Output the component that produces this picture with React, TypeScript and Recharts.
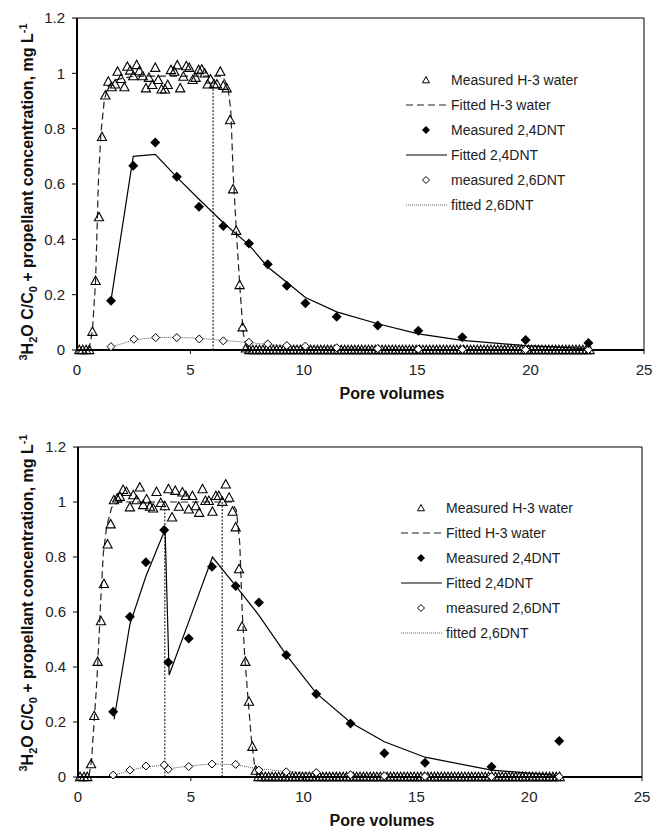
import React from 'react';
import { ComposedChart, Line, Scatter, XAxis, YAxis, ReferenceLine, Legend } from 'recharts';

// ---- upper panel ----
const topH3Measured = [
  [0.1, 0], [0.25, 0], [0.4, 0], [0.54, 0], [0.68, 0.066], [0.82, 0.25], [0.97, 0.48], [1.1, 0.77],
  [1.25, 0.92], [1.38, 0.97], [1.53, 0.95], [1.68, 0.96], [1.79, 1.006], [1.94, 0.98], [2.09, 0.95],
  [2.22, 1.024], [2.34, 1.01], [2.48, 0.99], [2.63, 1.03], [2.75, 1.008], [2.9, 0.99], [3.04, 0.946],
  [3.17, 0.984], [3.32, 0.958], [3.45, 1.02], [3.58, 0.976], [3.73, 0.942], [3.88, 0.942], [4.0, 0.958],
  [4.14, 1.012], [4.29, 1.006], [4.42, 1.029], [4.55, 0.946], [4.69, 0.988], [4.82, 1.026], [4.95, 1.02],
  [5.1, 0.976], [5.23, 0.984], [5.36, 1.012], [5.5, 1.014], [5.63, 1.0], [5.76, 0.96], [5.89, 0.978],
  [6.04, 0.961], [6.17, 0.96], [6.32, 1.006], [6.45, 0.955], [6.6, 0.946], [6.75, 0.831], [6.88, 0.581],
  [7.02, 0.431], [7.17, 0.235], [7.3, 0.082], [7.45, 0.006],
];
const topH3ZeroX = [
  7.6, 7.75, 7.9, 8.05, 8.2, 8.35, 8.5, 8.65, 8.8, 8.95, 9.1, 9.25, 9.4, 9.55, 9.7, 9.85, 10, 10.15, 10.3,
  10.45, 10.6, 10.75, 10.9, 11.05, 11.2, 11.35, 11.5, 11.65, 11.8, 11.95, 12.1, 12.25, 12.4, 12.55, 12.7,
  12.85, 13, 13.15, 13.3, 13.45, 13.6, 13.75, 13.9, 14.05, 14.2, 14.35, 14.5, 14.65, 14.8, 14.95, 15.1,
  15.25, 15.4, 15.55, 15.7, 15.85, 16, 16.15, 16.3, 16.45, 16.6, 16.75, 16.9, 17.05, 17.2, 17.35, 17.5,
  17.65, 17.8, 17.95, 18.1, 18.25, 18.4, 18.55, 18.7, 18.85, 19, 19.15, 19.3, 19.45, 19.6, 19.75, 19.9,
  20.05, 20.2, 20.35, 20.5, 20.65, 20.8, 20.95, 21.1, 21.25, 21.4, 21.55, 21.7, 21.85, 22, 22.15, 22.3,
  22.45, 22.6,
];
const topH3Fitted = [
  [0, 0], [0.45, 0], [0.55, 0.01], [0.68, 0.07], [0.82, 0.25], [0.94, 0.6], [1.05, 0.78], [1.2, 0.9],
  [1.35, 0.95], [1.6, 0.975], [2.5, 0.99], [6.4, 0.99], [6.55, 0.97], [6.67, 0.94], [6.78, 0.867],
  [6.89, 0.63], [7.04, 0.41], [7.19, 0.217], [7.33, 0.06], [7.48, 0.01], [7.6, 0], [22.6, 0],
];
const top24Measured = [
  [1.5, 0.178], [2.48, 0.666], [3.45, 0.75], [4.4, 0.626], [5.38, 0.518], [6.45, 0.448], [7.58, 0.385],
  [8.41, 0.31], [9.25, 0.232], [10.07, 0.169], [11.45, 0.12], [13.26, 0.089], [15.05, 0.07],
  [16.99, 0.046], [19.78, 0.036], [22.55, 0.025],
];
const top24Fitted = [
  [1.5, 0.18], [2.48, 0.7], [3.45, 0.707], [4.4, 0.625], [5.38, 0.545], [6.45, 0.46], [7.58, 0.38],
  [8.41, 0.3], [9.25, 0.245], [10.07, 0.19], [11.45, 0.138], [13.26, 0.095], [15.05, 0.058],
  [16.99, 0.035], [19.78, 0.016], [22.55, 0.005],
];
const top26Measured = [
  [1.5, 0.012], [2.51, 0.039], [3.47, 0.045], [4.4, 0.045], [5.39, 0.04], [6.45, 0.033], [7.58, 0.028],
  [8.41, 0.022], [9.25, 0.016], [10.07, 0.014], [11.45, 0.008], [13.26, 0.005], [15.05, 0.003],
  [16.99, 0.002], [19.78, 0.001], [22.55, 0.001],
];
const top26Fitted = [
  [1.5, 0.01], [2.51, 0.037], [3.47, 0.045], [4.4, 0.046], [5.39, 0.042], [6.45, 0.035], [7.58, 0.027],
  [8.41, 0.02], [9.25, 0.015], [10.07, 0.011], [11.45, 0.007], [13.26, 0.004], [15.05, 0.002],
  [16.99, 0.001], [19.78, 0], [22.55, 0],
];
const topMarkers = [[6.0, 0.955]];

// ---- lower panel ----
const botH3Measured = [
  [0.09, 0], [0.27, 0], [0.41, 0], [0.58, 0.047], [0.72, 0.222], [0.87, 0.419], [1.02, 0.567], [1.15, 0.702],
  [1.31, 0.846], [1.45, 0.919], [1.59, 1.007], [1.74, 1.013], [1.86, 1.019], [2.0, 1.044], [2.15, 1.037],
  [2.3, 0.981], [2.45, 1.025], [2.6, 1.007], [2.74, 1.053], [2.89, 0.989], [3.04, 1.01], [3.19, 0.983],
  [3.33, 0.977], [3.48, 1.037], [3.67, 0.997], [3.85, 0.985], [4.01, 1.047], [4.17, 0.944], [4.31, 1.041],
  [4.47, 0.983], [4.63, 1.035], [4.78, 1.022], [4.91, 0.973], [5.07, 1.022], [5.22, 0.985], [5.37, 0.961],
  [5.52, 1.047], [5.65, 1.004], [5.8, 1.004], [5.96, 0.965], [6.11, 1.022], [6.24, 1.022], [6.4, 1.001],
  [6.55, 1.064], [6.7, 1.016], [6.85, 0.965], [6.99, 0.908], [7.14, 0.756], [7.27, 0.547], [7.42, 0.419],
  [7.58, 0.274], [7.73, 0.11], [7.88, 0.023],
];
const botH3ZeroX = [
  8, 8.15, 8.3, 8.45, 8.6, 8.75, 8.9, 9.05, 9.2, 9.35, 9.5, 9.65, 9.8, 9.95, 10.1, 10.25, 10.4, 10.55,
  10.7, 10.85, 11, 11.15, 11.3, 11.45, 11.6, 11.75, 11.9, 12.05, 12.2, 12.35, 12.5, 12.65, 12.8, 12.95,
  13.1, 13.25, 13.4, 13.55, 13.7, 13.85, 14, 14.15, 14.3, 14.45, 14.6, 14.75, 14.9, 15.05, 15.2, 15.35,
  15.5, 15.65, 15.8, 15.95, 16.1, 16.25, 16.4, 16.55, 16.7, 16.85, 17, 17.15, 17.3, 17.45, 17.6, 17.75,
  17.9, 18.05, 18.2, 18.35, 18.5, 18.65, 18.8, 18.95, 19.1, 19.25, 19.4, 19.55, 19.7, 19.85, 20, 20.15,
  20.3, 20.45, 20.6, 20.75, 20.9, 21.05, 21.2, 21.35,
];
const botH3Fitted = [
  [0, 0], [0.4, 0], [0.5, 0.01], [0.6, 0.06], [0.68, 0.16], [0.83, 0.34], [0.94, 0.52], [1.0, 0.63],
  [1.12, 0.81], [1.27, 0.91], [1.49, 0.98], [1.8, 1.0], [6.8, 1.0], [7.02, 0.97], [7.17, 0.85],
  [7.28, 0.6], [7.39, 0.44], [7.54, 0.28], [7.69, 0.135], [7.83, 0.04], [7.97, 0], [21.4, 0],
];
const bot24Measured = [
  [1.56, 0.237], [2.3, 0.583], [3.01, 0.781], [3.82, 0.898], [4.0, 0.417], [4.91, 0.504], [5.94, 0.765],
  [6.99, 0.695], [8.02, 0.635], [9.23, 0.444], [10.56, 0.302], [12.08, 0.195], [13.58, 0.086],
  [15.38, 0.052], [18.33, 0.037], [21.33, 0.131],
];
const bot24Fitted = [
  [1.6, 0.21], [2.3, 0.555], [3.01, 0.73], [3.86, 0.9], [4.04, 0.371], [4.91, 0.565], [5.96, 0.8],
  [6.99, 0.695], [8.02, 0.588], [9.23, 0.444], [10.56, 0.305], [12.08, 0.198], [13.58, 0.128],
  [15.38, 0.072], [18.33, 0.025], [21.33, 0.005],
];
const bot26Measured = [
  [1.56, 0.007], [2.3, 0.025], [3.01, 0.04], [3.82, 0.044], [4.0, 0.028], [4.91, 0.038], [5.94, 0.047],
  [6.99, 0.046], [8.02, 0.025], [9.23, 0.019], [10.56, 0.016], [12.08, 0.008], [13.58, 0.004],
  [15.38, 0.002], [18.33, 0.001], [21.33, 0.001],
];
const bot26Fitted = [
  [1.56, 0.005], [2.3, 0.024], [3.01, 0.037], [3.86, 0.043], [4.04, 0.03], [4.91, 0.04], [5.96, 0.048],
  [6.99, 0.044], [8.02, 0.03], [9.23, 0.02], [10.56, 0.012], [12.08, 0.006], [13.58, 0.003],
  [15.38, 0.001], [18.33, 0], [21.33, 0],
];
const botMarkers = [[3.85, 0.985], [6.39, 1.0]];

const xTicks = [0, 5, 10, 15, 20, 25];
const yTicks = [0, 0.2, 0.4, 0.6, 0.8, 1, 1.2];
const legendNames = [
  'Measured H-3 water', 'Fitted H-3 water', 'Measured 2,4DNT', 'Fitted 2,4DNT', 'measured 2,6DNT', 'fitted 2,6DNT',
];

const FONT = '"Liberation Sans", Arial, sans-serif';
const pts = (a: number[][]) => a.map(([x, y]) => ({ x, y }));

const Triangle = (p: any) => {
  const { cx, cy } = p;
  if (cx == null || cy == null) return null;
  return (
    <polygon points={`${cx},${cy - 4.8} ${cx - 4.6},${cy + 3.6} ${cx + 4.6},${cy + 3.6}`}
      fill="none" stroke="#000" strokeWidth={1.1} />
  );
};
const Diamond = (p: any) => {
  const { cx, cy } = p;
  if (cx == null || cy == null) return null;
  return <polygon points={`${cx},${cy - 5} ${cx + 5},${cy} ${cx},${cy + 5} ${cx - 5},${cy}`} fill="#000" />;
};
const OpenDiamond = (p: any) => {
  const { cx, cy } = p;
  if (cx == null || cy == null) return null;
  return (
    <polygon points={`${cx},${cy - 4} ${cx + 4},${cy} ${cx},${cy + 4} ${cx - 4},${cy}`}
      fill="#fff" stroke="#000" strokeWidth={1} />
  );
};

const LegendIcon = ({ i }: { i: number }) => {
  const c = 21, m = 7;
  switch (i) {
    case 0: return <polygon points={`${c},${m - 3.5} ${c - 3.5},${m + 2.8} ${c + 3.5},${m + 2.8}`} fill="none" stroke="#000" strokeWidth={1} />;
    case 1: return <line x1={1} x2={42} y1={m} y2={m} stroke="#222" strokeWidth={1.2} strokeDasharray="7 4" />;
    case 2: return <polygon points={`${c},${m - 4} ${c + 4},${m} ${c},${m + 4} ${c - 4},${m}`} fill="#000" />;
    case 3: return <line x1={1} x2={42} y1={m} y2={m} stroke="#000" strokeWidth={1.2} />;
    case 4: return <polygon points={`${c},${m - 3.5} ${c + 3.5},${m} ${c},${m + 3.5} ${c - 3.5},${m}`} fill="#fff" stroke="#000" strokeWidth={1} />;
    default: return <line x1={1} x2={42} y1={m} y2={m} stroke="#666" strokeWidth={1} strokeDasharray="1 1" />;
  }
};

const LegendBox = () => (
  <div style={{ fontFamily: FONT, fontSize: 14, color: '#222' }}>
    {legendNames.map((name, i) => (
      <div key={name} style={{ display: 'flex', alignItems: 'center', height: 25 }}>
        <svg width={46} height={14} style={{ flex: 'none' }}><LegendIcon i={i} /></svg>
        <span style={{ whiteSpace: 'nowrap' }}>{name}</span>
      </div>
    ))}
  </div>
);

const YTitle = ({ cy }: any) => (
  <text transform={`translate(33, ${cy}) rotate(-90)`} textAnchor="middle" fontFamily={FONT}
    fontWeight="bold" fontSize={16} fill="#111">
    <tspan fontSize={11} dy={-6}>3</tspan>
    <tspan dy={6}>H</tspan>
    <tspan fontSize={11} dy={4}>2</tspan>
    <tspan dy={-4}>O C/C</tspan>
    <tspan fontSize={11} dy={4}>0</tspan>
    <tspan dy={-4}> + propellant concentration, mg L</tspan>
    <tspan fontSize={11} dy={-6}>-1</tspan>
  </text>
);

const XTitle = ({ cx }: any) => (
  <text x={cx} y={399} textAnchor="middle" fontFamily={FONT} fontWeight="bold" fontSize={16} fill="#111">
    Pore volumes
  </text>
);

interface PanelProps {
  h3: number[][]; h3Zero: number[]; h3Fit: number[][];
  m24: number[][]; f24: number[][]; m26: number[][]; f26: number[][];
  markers: number[][];
  marginTop: number; yWidth: number; right: number;
  yTitleCy: number; xTitleCx: number; legendLeft: number; legendTop: number;
}

const Panel = (p: PanelProps) => {
  const h3Data = pts([...p.h3, ...p.h3Zero.map((x) => [x, 0])]);
  return (
    <ComposedChart width={655} height={412} margin={{ top: p.marginTop, right: p.right, bottom: 0, left: 0 }}>
      <XAxis type="number" dataKey="x" domain={[0, 25]} ticks={xTicks} height={62}
        axisLine={{ stroke: '#000', strokeWidth: 2 }} tickLine={{ stroke: '#000' }} tickSize={4} tickMargin={10}
        tick={{ fontSize: 15, fill: '#222', fontFamily: FONT }} label={<XTitle cx={p.xTitleCx} />} />
      <YAxis type="number" domain={[0, 1.2]} ticks={yTicks} width={p.yWidth}
        axisLine={{ stroke: '#000', strokeWidth: 2 }} tickLine={{ stroke: '#000' }} tickSize={5} tickMargin={7}
        tick={{ fontSize: 15, fill: '#222', fontFamily: FONT }} label={<YTitle cy={p.yTitleCy} />} />
      <ReferenceLine y={1.2} stroke="#000" strokeWidth={1} />
      <ReferenceLine x={25} stroke="#000" strokeWidth={1} />
      {p.markers.map(([x, y]) => (
        <ReferenceLine key={x} segment={[{ x, y: 0 }, { x, y }]} stroke="#000" strokeWidth={1} strokeDasharray="2 1.5" />
      ))}
      <Line data={pts(p.h3Fit)} dataKey="y" type="linear" stroke="#222" strokeWidth={1.2} strokeDasharray="7 4"
        dot={false} activeDot={false} isAnimationActive={false} legendType="none" />
      <Line data={pts(p.f24)} dataKey="y" type="linear" stroke="#000" strokeWidth={1.2}
        dot={false} activeDot={false} isAnimationActive={false} legendType="none" />
      <Line data={pts(p.f26)} dataKey="y" type="linear" stroke="#555" strokeWidth={1} strokeDasharray="1 1"
        dot={false} activeDot={false} isAnimationActive={false} legendType="none" />
      <Scatter data={h3Data} dataKey="y" shape={Triangle} isAnimationActive={false} legendType="none" />
      <Scatter data={pts(p.m26)} dataKey="y" shape={OpenDiamond} isAnimationActive={false} legendType="none" />
      <Scatter data={pts(p.m24)} dataKey="y" shape={Diamond} isAnimationActive={false} legendType="none" />
      <Legend layout="vertical" align="center" verticalAlign="middle" content={<LegendBox />}
        wrapperStyle={{ left: p.legendLeft, top: p.legendTop, width: 240 }} />
    </ComposedChart>
  );
};

export default function App() {
  return (
    <div style={{ position: 'absolute', left: 0, top: 0, width: 655, height: 830, overflow: 'hidden', background: '#fff' }}>
      <div style={{ position: 'absolute', left: 0, top: 0 }}>
        <Panel h3={topH3Measured} h3Zero={topH3ZeroX} h3Fit={topH3Fitted} m24={top24Measured} f24={top24Fitted}
          m26={top26Measured} f26={top26Fitted} markers={topMarkers} marginTop={18} yWidth={77} right={11}
          yTitleCy={192} xTitleCx={392} legendLeft={405} legendTop={67} />
      </div>
      <div style={{ position: 'absolute', left: 0, top: 427 }}>
        <Panel h3={botH3Measured} h3Zero={botH3ZeroX} h3Fit={botH3Fitted} m24={bot24Measured} f24={bot24Fitted}
          m26={bot26Measured} f26={bot26Fitted} markers={botMarkers} marginTop={20} yWidth={78} right={13}
          yTitleCy={176} xTitleCx={382} legendLeft={400} legendTop={68} />
      </div>
    </div>
  );
}
